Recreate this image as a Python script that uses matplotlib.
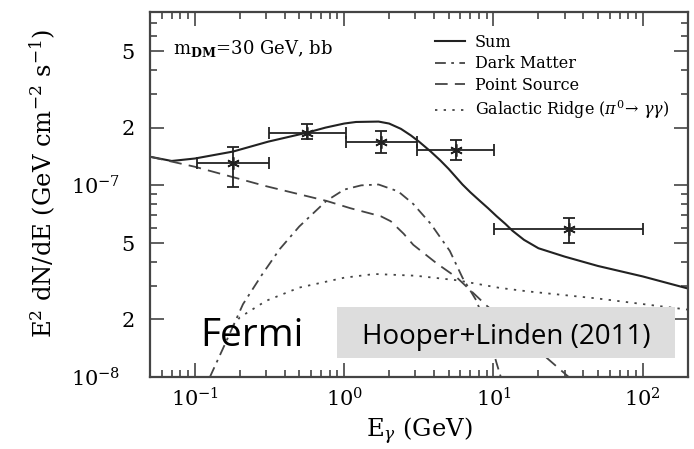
import numpy as np
import matplotlib.pyplot as plt
from matplotlib.patches import Rectangle
from matplotlib.transforms import ScaledTranslation
from matplotlib.ticker import FixedLocator, LogLocator, NullFormatter

plt.rcParams['font.family'] = 'DejaVu Serif'
plt.rcParams['mathtext.fontset'] = 'dejavuserif'

# Sum of all components
sum_x = [0.05, 0.07, 0.1, 0.18, 0.31, 0.56, 0.75, 1.0, 1.2, 1.7, 2.0, 2.4,
         2.8, 3.2, 3.8, 4.4, 5.0, 6.2, 7.0, 8.1, 9.2, 10.5, 12, 13.4, 16,
         20, 30, 50, 100, 200]
sum_y = [1.41e-7, 1.34e-7, 1.38e-7, 1.50e-7, 1.69e-7, 1.88e-7, 2.0e-7,
         2.10e-7, 2.14e-7, 2.15e-7, 2.10e-7, 1.97e-7, 1.82e-7, 1.68e-7,
         1.50e-7, 1.35e-7, 1.22e-7, 1.01e-7, 9.2e-8, 8.3e-8, 7.6e-8, 6.9e-8,
         6.3e-8, 5.8e-8, 5.2e-8, 4.7e-8, 4.25e-8, 3.8e-8, 3.35e-8, 2.9e-8]

# Dark matter (30 GeV, bb)
dm_x = [0.126, 0.16, 0.21, 0.28, 0.37, 0.5, 0.76, 1.0, 1.3, 1.7, 2.3, 2.9,
        3.8, 5.1, 6.2, 7.7, 9.0, 10.5, 11.2]
dm_y = [1e-8, 1.5e-8, 2.4e-8, 3.4e-8, 4.65e-8, 6.1e-8, 8.3e-8, 9.5e-8,
        1.0e-7, 1.01e-7, 9.3e-8, 8.0e-8, 6.3e-8, 4.55e-8, 3.3e-8, 2.5e-8,
        1.8e-8, 1.18e-8, 1.0e-8]

# Point source
ps_x = [0.05, 0.1, 0.3, 0.76, 1.1, 1.76, 2.05, 2.5, 2.9, 4.2, 5.7, 9.0, 15, 32]
ps_y = [1.41e-7, 1.25e-7, 9.9e-8, 8.3e-8, 7.6e-8, 6.9e-8, 6.5e-8, 5.6e-8,
        4.9e-8, 3.9e-8, 3.3e-8, 2.36e-8, 1.67e-8, 1.0e-8]

# Galactic ridge (pi0 -> gamma gamma)
gr_x = [0.18, 0.2, 0.3, 0.5, 1.0, 1.6, 3.0, 5.7, 11, 17, 50, 200]
gr_y = [1.85e-8, 2.05e-8, 2.5e-8, 2.93e-8, 3.3e-8, 3.45e-8, 3.38e-8, 3.2e-8,
        2.92e-8, 2.8e-8, 2.57e-8, 2.25e-8]

# Fermi data points
pt_x = np.array([0.179, 0.56, 1.76, 5.6, 31.9])
pt_y = np.array([1.30e-7, 1.88e-7, 1.69e-7, 1.52e-7, 5.9e-8])
pt_xlo = np.array([0.103, 0.314, 1.03, 3.09, 10.1])
pt_xhi = np.array([0.314, 1.03, 3.09, 10.1, 100])
pt_ylo = np.array([9.8e-8, 1.75e-7, 1.47e-7, 1.35e-7, 5.0e-8])
pt_yhi = np.array([1.59e-7, 2.09e-7, 1.93e-7, 1.73e-7, 6.75e-8])

ytick_vals = [1e-8, 2e-8, 5e-8, 1e-7, 2e-7, 5e-7]
ytick_labels = [r'$10^{-8}$', '2', '5', r'$10^{-7}$', '2', '5']

fig = plt.figure(figsize=(6.94, 4.49), dpi=100)
ax = fig.add_axes([0.216, 0.160, 0.775, 0.813])

lw = 1.3
ax.plot(sum_x, sum_y, color='#222222', lw=1.5, label='Sum')
ax.plot(dm_x, dm_y, color='#444444', lw=lw, dashes=(6, 3, 1.5, 3),
        label='Dark Matter')
ax.plot(ps_x, ps_y, color='#444444', lw=lw, dashes=(7, 4), label='Point Source')
ax.plot(gr_x, gr_y, color='#444444', lw=lw, dashes=(1.3, 3.5),
        label=r'Galactic Ridge ($\pi^0\!\rightarrow\,\gamma\gamma$)')

ax.errorbar(pt_x, pt_y, xerr=[pt_x - pt_xlo, pt_xhi - pt_x],
            yerr=[pt_y - pt_ylo, pt_yhi - pt_y], fmt='none', ecolor='#222222',
            elinewidth=1.3, capsize=4, capthick=1.3)
ax.plot(pt_x, pt_y, ls='none', marker=(6, 2, 0), ms=9, mew=1.2, color='#222222')

ax.set_xscale('log')
ax.set_yscale('log')
ax.set_xlim(0.05, 200)
ax.set_ylim(1e-8, 8e-7)

ax.yaxis.set_major_locator(FixedLocator(ytick_vals))
ax.set_yticklabels(ytick_labels)
ax.yaxis.set_minor_locator(LogLocator(base=10, subs=[3, 4, 6, 7, 8, 9], numticks=20))
ax.yaxis.set_minor_formatter(NullFormatter())
ax.xaxis.set_minor_locator(LogLocator(base=10, subs=np.arange(2, 10), numticks=20))
ax.xaxis.set_minor_formatter(NullFormatter())

ax.tick_params(which='both', direction='in', top=True, right=True,
               labelsize=15, color='#444444', width=1.2)
ax.tick_params(which='major', length=10, pad=7)
ax.tick_params(which='minor', length=5)
ax.tick_params(axis='y', which='major', pad=11)
for s in ax.spines.values():
    s.set_linewidth(1.6)
    s.set_color('#444444')

ax.set_xlabel(r'E$_\gamma$ (GeV)', fontsize=17.5, labelpad=4)
ax.set_ylabel(r'E$^2$ dN/dE (GeV cm$^{-2}$ s$^{-1}$)', fontsize=17.5)
ax.yaxis.set_label_coords(-0.17, 0.53)

ax.text(0.043, 0.899, r'm$_{\mathbf{DM}}$=30 GeV, bb', transform=ax.transAxes,
        fontsize=13, va='center', ha='left')

ax.legend(loc='upper left', bbox_to_anchor=(0.53, 0.94), frameon=False,
          fontsize=11.5, handlelength=1.9, handletextpad=0.6, labelspacing=0.28,
          borderpad=0, borderaxespad=0)

# overlay annotations
fig.patches.append(Rectangle((337 / 694, 1 - 358 / 449), 338 / 694, 51 / 449,
                             transform=fig.transFigure, facecolor='#dddddd',
                             edgecolor='none', zorder=5))
fig.text(362 / 694, 1 - 344 / 449, 'Hooper+Linden (2011)', family='Open Sans',
         fontsize=20, ha='left', va='baseline', zorder=6)
fig.text(200 / 694, 1 - 346 / 449, 'Fermi', family='Open Sans', fontsize=28,
         ha='left', va='baseline', zorder=6)

# the decade labels on y sit a bit further left than the 2 / 5 ones
fig.canvas.draw()
shift = ScaledTranslation(-10 / 72, 0, fig.dpi_scale_trans)
for tick in ax.yaxis.get_major_ticks():
    if tick.label1.get_text().startswith('$10'):
        tick.label1.set_transform(tick.label1.get_transform() + shift)

fig.savefig('out.png', dpi=100)
